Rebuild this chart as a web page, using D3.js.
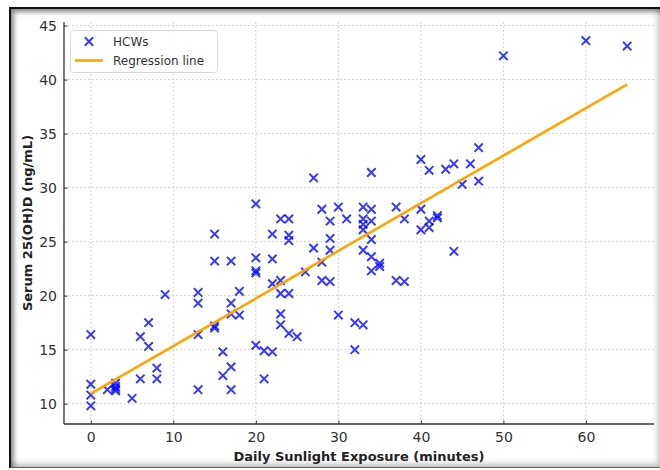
<!DOCTYPE html>
<html>
<head>
<meta charset="utf-8">
<script src="https://cdn.jsdelivr.net/npm/d3@7"></script>
<style>
  html, body { margin: 0; padding: 0; background: #fff; }
  #wrap { position: relative; width: 660px; height: 470px; overflow: hidden; }
  #frame {
    position: absolute; left: 9px; top: 7px; width: 650px; height: 458px;
    border-top: 2px solid #111; border-left: 2px solid #111;
    border-bottom: 1px solid #666; border-right: 1px solid #999;
    box-shadow: inset 3px 3px 5px rgba(0,0,0,0.45), inset -3px -3px 6px rgba(0,0,0,0.25);
  }
  svg { position: absolute; left: 0; top: 0; }
</style>
</head>
<body>
<div id="wrap">
  <div id="frame"></div>
  <div id="chart"></div>
</div>
<script>
// sunlight minutes and serum levels, one entry per worker
const sunlight = [
  0, 0, 0, 0, 2, 3, 3, 3, 3, 5, 6, 6, 7, 7, 8, 8, 9,
  13, 13, 13, 13, 15, 15, 15, 15, 16, 16, 17, 17, 17, 17, 17, 18, 18,
  20, 20, 20, 20, 20, 21, 21, 22, 22, 22, 22,
  23, 23, 23, 23, 23, 24, 24, 24, 24, 24, 25, 26, 27, 27, 28, 28, 28,
  29, 29, 29, 29, 30, 30, 31, 32, 32,
  33, 33, 33, 33, 33, 33, 34, 34, 34, 34, 34, 34, 35, 35,
  37, 37, 38, 38, 40, 40, 40, 41, 41, 41, 42, 42, 43, 44, 44, 45, 46, 47, 47,
  50, 60, 65
];
const serum = [
  16.4, 11.8, 10.8, 9.8, 11.3, 11.9, 11.6, 11.4, 11.2, 10.5, 16.2, 12.3, 17.5, 15.3, 13.3, 12.3, 20.1,
  20.3, 19.3, 16.4, 11.3, 25.7, 23.2, 17.2, 17.0, 14.8, 12.6, 23.2, 19.3, 18.3, 13.4, 11.3, 20.4, 18.2,
  28.5, 23.5, 22.3, 22.1, 15.4, 14.9, 12.3, 25.7, 23.4, 21.1, 14.8,
  27.1, 21.4, 20.2, 18.3, 17.3, 27.1, 25.6, 25.1, 20.2, 16.5, 16.2, 22.2, 30.9, 24.4, 28.0, 23.1, 21.4,
  26.9, 25.3, 24.2, 21.3, 28.2, 18.2, 27.1, 17.5, 15.0,
  28.2, 27.1, 26.6, 26.1, 24.2, 17.3, 31.4, 28.0, 26.9, 25.2, 23.6, 22.3, 23.0, 22.7,
  28.2, 21.4, 27.1, 21.3, 32.6, 28.0, 26.1, 31.6, 26.9, 26.3, 27.4, 27.2, 31.7, 32.2, 24.1, 30.3, 32.2, 33.7, 30.6,
  42.2, 43.6, 43.1
];
const xTicks = [0, 10, 20, 30, 40, 50, 60];
const yTicks = [10, 15, 20, 25, 30, 35, 40, 45];
const xDomain = [-3.25, 68.25];
const yDomain = [8.12, 45.33];
const legendLabels = ['HCWs', 'Regression line'];

const points = sunlight.map((s, i) => ({ x: s, y: serum[i] }));

// least squares fit
const mx = d3.mean(points, d => d.x);
const my = d3.mean(points, d => d.y);
const slope = d3.sum(points, d => (d.x - mx) * (d.y - my)) / d3.sum(points, d => (d.x - mx) ** 2);
const intercept = my - slope * mx;
const xr = d3.extent(points, d => d.x);
const fit = xr.map(v => ({ x: v, y: intercept + slope * v }));

const plot = { left: 64, right: 654, top: 22, bottom: 424 };
const font = 'DejaVu Sans, sans-serif';

const x = d3.scaleLinear().domain(xDomain).range([plot.left, plot.right]);
const y = d3.scaleLinear().domain(yDomain).range([plot.bottom, plot.top]);

const svg = d3.select('#chart')
  .append('svg')
  .attr('width', 660)
  .attr('height', 470);

// grid
svg.append('g')
  .selectAll('line')
  .data(xTicks)
  .enter()
  .append('line')
  .attr('x1', d => x(d)).attr('x2', d => x(d))
  .attr('y1', plot.top).attr('y2', plot.bottom)
  .attr('stroke', '#d4d4d4')
  .attr('stroke-width', 1)
  .attr('stroke-dasharray', '2,2');

svg.append('g')
  .selectAll('line')
  .data(yTicks)
  .enter()
  .append('line')
  .attr('x1', plot.left).attr('x2', plot.right)
  .attr('y1', d => y(d)).attr('y2', d => y(d))
  .attr('stroke', '#d4d4d4')
  .attr('stroke-width', 1)
  .attr('stroke-dasharray', '2,2');

// axes
const xAxis = svg.append('g')
  .attr('transform', `translate(0, ${plot.bottom})`)
  .call(d3.axisBottom(x).tickValues(xTicks).tickSize(-3.5).tickPadding(8).tickFormat(d3.format('d')));

const yAxis = svg.append('g')
  .attr('transform', `translate(${plot.left}, 0)`)
  .call(d3.axisLeft(y).tickValues(yTicks).tickSize(-3.5).tickPadding(7).tickFormat(d3.format('d')));

[xAxis, yAxis].forEach(g => {
  g.select('.domain').remove();
  g.selectAll('.tick line').attr('stroke', '#333').attr('stroke-width', 1);
  g.selectAll('.tick text')
    .style('font-family', font)
    .style('font-size', '14px')
    .attr('fill', '#333');
});

svg.append('line')
  .attr('x1', plot.left).attr('x2', plot.left)
  .attr('y1', plot.top).attr('y2', plot.bottom)
  .attr('stroke', '#333').attr('stroke-width', 1.3);
svg.append('line')
  .attr('x1', plot.left).attr('x2', plot.right)
  .attr('y1', plot.bottom).attr('y2', plot.bottom)
  .attr('stroke', '#333').attr('stroke-width', 1.3);

// axis labels
svg.append('text')
  .attr('x', (plot.left + plot.right) / 2)
  .attr('y', 461)
  .attr('text-anchor', 'middle')
  .style('font-family', font)
  .style('font-size', '13px')
  .style('font-weight', 'bold')
  .attr('fill', '#222')
  .text('Daily Sunlight Exposure (minutes)');

svg.append('text')
  .attr('transform', `translate(32, ${(plot.top + plot.bottom) / 2}) rotate(-90)`)
  .attr('text-anchor', 'middle')
  .style('font-family', font)
  .style('font-size', '13px')
  .style('font-weight', 'bold')
  .attr('fill', '#222')
  .text('Serum 25(OH)D (ng/mL)');

// scatter markers
const cross = (g, cx, cy, r) => {
  g.append('path')
    .attr('d', `M${cx - r},${cy - r}L${cx + r},${cy + r}M${cx - r},${cy + r}L${cx + r},${cy - r}`)
    .attr('stroke', '#0000ff')
    .attr('stroke-opacity', 0.78)
    .attr('stroke-width', 2)
    .attr('fill', 'none');
};

const marks = svg.append('g');
points.forEach(d => cross(marks, x(d.x), y(d.y), 4.2));

// regression line
svg.append('path')
  .datum(fit)
  .attr('d', d3.line().x(d => x(d.x)).y(d => y(d.y)))
  .attr('stroke', '#ffa500')
  .attr('stroke-width', 2.6)
  .attr('fill', 'none');

// legend
const lg = svg.append('g');
lg.append('rect')
  .attr('x', 70.5).attr('y', 30.5)
  .attr('width', 147).attr('height', 42)
  .attr('rx', 3)
  .attr('fill', '#fff')
  .attr('fill-opacity', 0.85)
  .attr('stroke', '#d9d9d9');
cross(lg, 89, 41.5, 4.2);
lg.append('line')
  .attr('x1', 75).attr('x2', 103)
  .attr('y1', 60.5).attr('y2', 60.5)
  .attr('stroke', '#ffa500')
  .attr('stroke-width', 2.6);
lg.selectAll('text')
  .data(legendLabels)
  .enter()
  .append('text')
  .attr('x', 113)
  .attr('y', (d, i) => 46 + i * 19)
  .style('font-family', font)
  .style('font-size', '12px')
  .attr('fill', '#333')
  .text(d => d);
</script>
</body>
</html>
